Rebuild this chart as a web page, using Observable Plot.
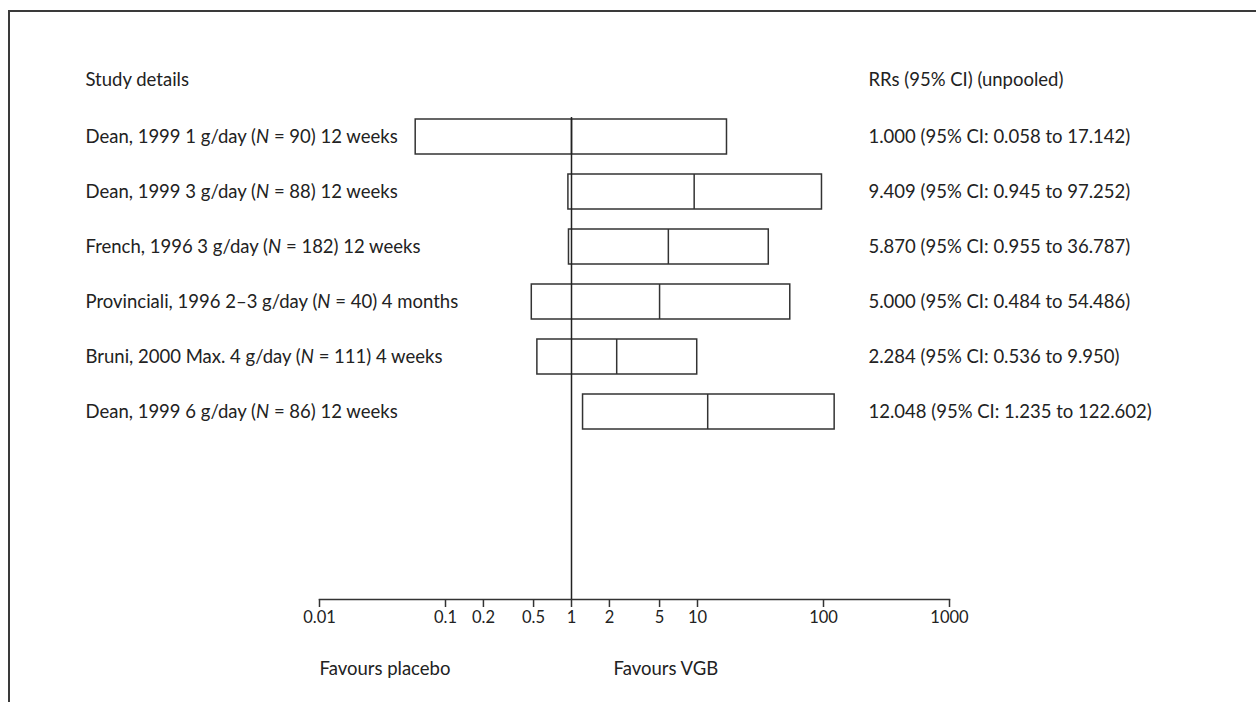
<!DOCTYPE html>
<html><head><meta charset="utf-8">
<script src="https://cdn.jsdelivr.net/npm/d3@7"></script>
<script src="https://cdn.jsdelivr.net/npm/@observablehq/plot@0.6"></script>
<style>
body{margin:0;background:#fff;}
#wrap{position:relative;width:1256px;height:702px;overflow:hidden;}
#border{position:absolute;left:8px;top:10px;right:-4px;bottom:-10px;border-top:2px solid #3a3a3a;border-left:2px solid #3a3a3a;}
#chart{position:absolute;left:0;top:0;}
</style></head><body>
<div id="wrap"><div id="border"></div><div id="chart"></div></div>
<script>
const studies = [
  "Dean, 1999 1 g/day (N = 90) 12 weeks",
  "Dean, 1999 3 g/day (N = 88) 12 weeks",
  "French, 1996 3 g/day (N = 182) 12 weeks",
  "Provinciali, 1996 2–3 g/day (N = 40) 4 months",
  "Bruni, 2000 Max. 4 g/day (N = 111) 4 weeks",
  "Dean, 1999 6 g/day (N = 86) 12 weeks"
];
const estimates = [1.000, 9.409, 5.870, 5.000, 2.284, 12.048];
const lower = [0.058, 0.945, 0.955, 0.484, 0.536, 1.235];
const upper = [17.142, 97.252, 36.787, 54.486, 9.950, 122.602];
const tickValues = [0.01, 0.1, 0.2, 0.5, 1, 2, 5, 10, 100, 1000];
const tickLabels = ["0.01", "0.1", "0.2", "0.5", "1", "2", "5", "10", "100", "1000"];
const headers = ["Study details", "RRs (95% CI) (unpooled)"];
const sideLabels = ["Favours placebo", "Favours VGB"];

const rows = studies.map((s, i) => ({
  study: s, est: estimates[i], lo: lower[i], hi: upper[i],
  ci: `${estimates[i].toFixed(3)} (95% CI: ${lower[i].toFixed(3)} to ${upper[i].toFixed(3)})`
}));
const ticks = tickValues.map((v, i) => ({v, label: tickLabels[i]}));

const ink = "#333";
const txt = "#222";
const fs = 18.5;

const chart = Plot.plot({
  width: 1256, height: 702,
  marginLeft: 319, marginRight: 307, marginTop: 117, marginBottom: 103,
  style: {fontFamily: "Lato, 'Open Sans', sans-serif", fontSize: "15px", color: txt, background: "transparent", overflow: "visible"},
  x: {type: "log", domain: [0.01, 1000]},
  y: {type: "band", domain: studies, range: [117.5, 429.5], paddingInner: 0.368, paddingOuter: 0, axis: null},
  marks: [
    Plot.frame({anchor: "bottom", stroke: ink, strokeWidth: 1.5}),
    Plot.axisX({ticks: tickValues, tickFormat: () => "", tickSize: 8, label: null, stroke: ink, strokeWidth: 1.5}),
    Plot.text(ticks, {x: "v", text: "label", frameAnchor: "bottom", lineAnchor: "top", dy: 12, fontSize: 16.5, fill: txt}),
    Plot.rect(rows, {x1: "lo", x2: "hi", y: "study", fill: "white", stroke: ink, strokeWidth: 1.5}),
    Plot.tickX(rows, {x: "est", y: "study", stroke: ink, strokeWidth: 1.5}),
    Plot.ruleX([1], {stroke: "#222", strokeWidth: 1.5}),
    Plot.text(rows, {y: "study", text: "study", frameAnchor: "left", textAnchor: "start", lineAnchor: "middle", dx: -234, fontSize: fs, fill: txt}),
    Plot.text(rows, {y: "study", text: "ci", frameAnchor: "right", textAnchor: "start", lineAnchor: "middle", dx: -81, fontSize: fs, fill: txt}),
    Plot.text([headers[0]], {text: d => d, frameAnchor: "top-left", textAnchor: "start", lineAnchor: "middle", dx: -234, dy: -37, fontSize: fs, fill: txt}),
    Plot.text([headers[1]], {text: d => d, frameAnchor: "top-right", textAnchor: "start", lineAnchor: "middle", dx: -81, dy: -37, fontSize: fs, fill: txt}),
    Plot.text([sideLabels[0]], {text: d => d, frameAnchor: "bottom-left", textAnchor: "start", lineAnchor: "middle", dy: 70, fontSize: fs, fill: txt}),
    Plot.text([sideLabels[1]], {x: [1], text: d => d, frameAnchor: "bottom", textAnchor: "start", lineAnchor: "middle", dx: 42, dy: 70, fontSize: fs, fill: txt})
  ]
});

// italicize the N in "(N = ...)"
const svgNS = "http://www.w3.org/2000/svg";
chart.querySelectorAll("text").forEach(t => {
  const s = t.textContent;
  const k = s.indexOf("(N = ");
  if (k >= 0 && t.children.length === 0) {
    t.textContent = "";
    t.appendChild(document.createTextNode(s.slice(0, k + 1)));
    const it = document.createElementNS(svgNS, "tspan");
    it.setAttribute("font-style", "italic");
    it.textContent = "N";
    t.appendChild(it);
    t.appendChild(document.createTextNode(s.slice(k + 2)));
  }
});

document.getElementById("chart").appendChild(chart);
</script>
</body></html>
